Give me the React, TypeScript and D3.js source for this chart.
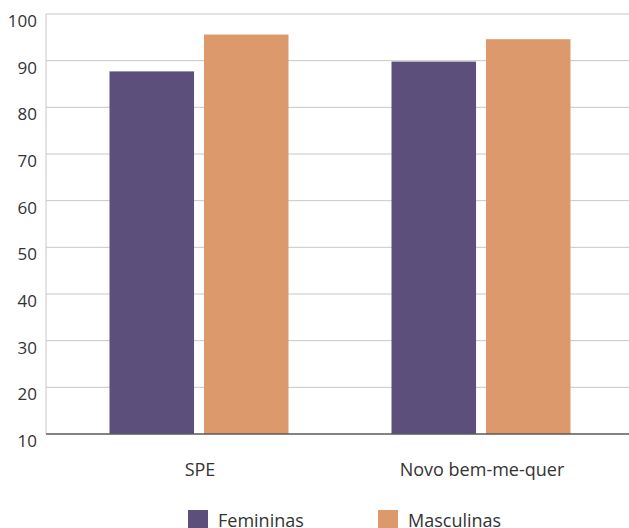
import React from "react";
import * as d3 from "d3";

const categories = ["SPE", "Novo bem-me-quer"];
const seriesNames = ["Femininas", "Masculinas"];
const femininas = [87.7, 89.8];
const masculinas = [95.6, 94.6];
const yTicks = [10, 20, 30, 40, 50, 60, 70, 80, 90, 100];
const colors = ["#5d4f7c", "#dc996c"];

const W = 629;
const H = 528;
const FONT = "'Open Sans', sans-serif";

export default function App() {
  const y = d3.scaleLinear().domain([10, 100]).range([434, 14]);
  const x0 = d3.scalePoint<string>().domain(categories).range([58, 622]).padding(0.5);
  const x1 = d3.scaleBand<string>().domain(seriesNames).range([-89.5, 89.5]).paddingInner(0.105);
  const values = [femininas, masculinas];
  const axisLeft = 46;

  return (
    <svg width={W} height={H} style={{ position: "absolute", left: 0, top: 0, fontFamily: FONT }}>
      <rect width={W} height={H} fill="#fff" />
      {yTicks.map((t) => (
        <g key={t}>
          {t !== 10 && (
            <line x1={axisLeft} x2={W} y1={y(t)} y2={y(t)} stroke="#c8c8c8" strokeWidth={1} />
          )}
          <text x={37} y={y(t) + 13} textAnchor="end" fontSize={17} fill="#333">
            {t}
          </text>
        </g>
      ))}
      <line x1={axisLeft} x2={axisLeft} y1={y(100)} y2={y(10)} stroke="#c8c8c8" strokeWidth={1} />
      {categories.map((c, i) => (
        <g key={c}>
          {seriesNames.map((s, j) => (
            <rect
              key={s}
              x={(x0(c) as number) + (x1(s) as number)}
              y={y(values[j][i])}
              width={x1.bandwidth()}
              height={y(10) - y(values[j][i])}
              fill={colors[j]}
            />
          ))}
          <text x={(x0(c) as number) + 1} y={476} textAnchor="middle" fontSize={18} fill="#333">
            {c}
          </text>
        </g>
      ))}
      <line x1={axisLeft} x2={W} y1={y(10)} y2={y(10)} stroke="#5a5a5a" strokeWidth={1.5} />
      {seriesNames.map((s, j) => {
        const lx = [188, 378][j];
        return (
          <g key={s}>
            <rect x={lx} y={510} width={20} height={20} fill={colors[j]} />
            <text x={lx + 30} y={527} fontSize={18} fill="#333">
              {s}
            </text>
          </g>
        );
      })}
    </svg>
  );
}
